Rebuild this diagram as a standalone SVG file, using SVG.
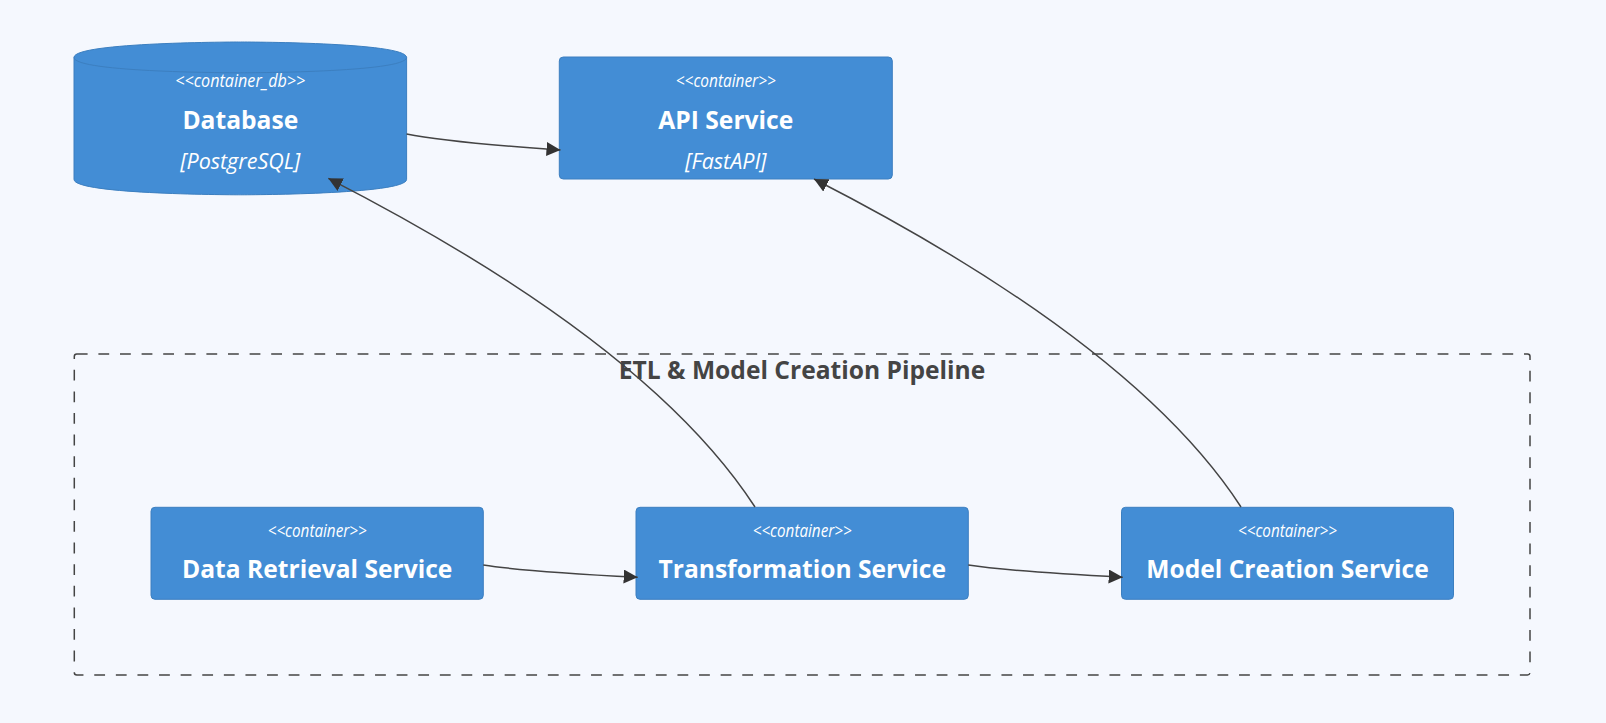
<svg xmlns="http://www.w3.org/2000/svg" width="1606" height="723" viewBox="0 0 1606 723">
<style>
.bg{fill:#F5F8FE}
.box{fill:#438DD5;stroke:#3C7FC0;stroke-width:1}
.type{font-family:"Open Sans","Liberation Sans",sans-serif;font-style:italic;font-size:18.5px;fill:#FFFFFF;text-anchor:middle}
.name{font-family:"Open Sans","Liberation Sans",sans-serif;font-weight:bold;font-size:24.6px;fill:#FFFFFF;text-anchor:middle}
.techn{font-family:"Open Sans","Liberation Sans",sans-serif;font-style:italic;font-size:21.5px;fill:#FFFFFF;text-anchor:middle}
.rel{fill:none;stroke:#444444;stroke-width:1.5;marker-end:url(#arrow)}
.boundary{fill:none;stroke:#444444;stroke-width:1.5;stroke-dasharray:10.8,10.8}
.btitle{font-family:"Open Sans","Liberation Sans",sans-serif;font-weight:bold;font-size:24.6px;fill:#444444;text-anchor:middle}
</style>
<defs>
<marker id="arrow" markerUnits="userSpaceOnUse" markerWidth="14" markerHeight="14" refX="14" refY="7" orient="auto">
<path d="M0,0 L14,7 L0,14 z" fill="#333333"/>
</marker>
</defs>
<rect class="bg" x="0" y="0" width="1606" height="723"/>

<g id="boundary-pipeline">
<rect class="boundary" x="74.3" y="354" width="1455.7" height="321" rx="2.5" ry="2.5"/>
<text class="btitle" x="802" y="378.5">ETL &amp; Model Creation Pipeline</text>
</g>

<g id="node-database">
<path class="box" d="M74,57.4 c0,-15.4 166.3,-15.4 166.3,-15.4 c0,0 166.3,0 166.3,15.4 l0,122 c0,15.4 -166.3,15.4 -166.3,15.4 c0,0 -166.3,0 -166.3,-15.4 l0,-122 Z"/>
<path d="M406.6,57.4 c0,15.4 -166.3,15.4 -166.3,15.4 c0,0 -166.3,0 -166.3,-15.4" fill="none" stroke="#3C7FC0" stroke-width="1"/>
<text class="type" x="240.3" y="87" textLength="130" lengthAdjust="spacingAndGlyphs">&lt;&lt;container_db&gt;&gt;</text>
<text class="name" x="240.3" y="129">Database</text>
<text class="techn" x="240.3" y="168.5">[PostgreSQL]</text>
</g>

<g id="node-api">
<rect class="box" x="559.3" y="57" width="333" height="122" rx="4" ry="4"/>
<text class="type" x="725.8" y="87" textLength="100" lengthAdjust="spacingAndGlyphs">&lt;&lt;container&gt;&gt;</text>
<text class="name" x="725.8" y="129">API Service</text>
<text class="techn" x="725.8" y="168.5">[FastAPI]</text>
</g>

<g id="node-data-retrieval">
<rect class="box" x="151" y="507.3" width="332.3" height="92" rx="4" ry="4"/>
<text class="type" x="317.2" y="537" textLength="99" lengthAdjust="spacingAndGlyphs">&lt;&lt;container&gt;&gt;</text>
<text class="name" x="317.2" y="578.3">Data Retrieval Service</text>
</g>

<g id="node-transformation">
<rect class="box" x="636" y="507.3" width="332.3" height="92" rx="4" ry="4"/>
<text class="type" x="802.2" y="537" textLength="99" lengthAdjust="spacingAndGlyphs">&lt;&lt;container&gt;&gt;</text>
<text class="name" x="802.2" y="578.3">Transformation Service</text>
</g>

<g id="node-model-creation">
<rect class="box" x="1121.5" y="507.3" width="332" height="92" rx="4" ry="4"/>
<text class="type" x="1287.5" y="537" textLength="99" lengthAdjust="spacingAndGlyphs">&lt;&lt;container&gt;&gt;</text>
<text class="name" x="1287.5" y="578.3">Model Creation Service</text>
</g>

<g id="connectors">
<path class="rel" d="M406.6,134 Q445.1,142 560.5,150"/>
<path class="rel" d="M755,507 Q648.3,342.65 328.3,178.3"/>
<path class="rel" d="M1241,507 Q1134.25,343 814,179"/>
<path class="rel" d="M483.3,565 Q521.9,571.15 637.7,577.3"/>
<path class="rel" d="M968.3,565 Q1006.9,571.15 1122.7,577.3"/>
</g>
</svg>
